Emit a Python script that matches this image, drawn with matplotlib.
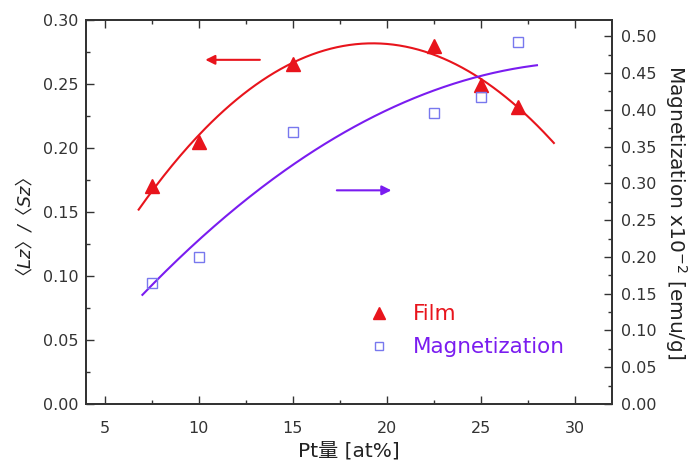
import numpy as np
import matplotlib
matplotlib.use("Agg")
import matplotlib.pyplot as plt
from matplotlib.ticker import MultipleLocator

plt.rcParams['font.family'] = ['DejaVu Sans', 'Noto Sans CJK JP']
plt.rcParams['mathtext.fontset'] = 'dejavusans'

# Pt content [at%]
pt_content = [7.5, 10, 15, 22.5, 25, 27]
# <Lz>/<Sz> ratio of the films (left axis)
film_ratio = [0.170, 0.205, 0.266, 0.280, 0.249, 0.232]
# Magnetization x10^-2 [emu/g] (right axis)
magnetization = [0.164, 0.200, 0.370, 0.396, 0.417, 0.492]

x_ticks = [5, 10, 15, 20, 25, 30]
left_ticks = [0.00, 0.05, 0.10, 0.15, 0.20, 0.25, 0.30]
right_ticks = [0.00, 0.05, 0.10, 0.15, 0.20, 0.25, 0.30, 0.35, 0.40, 0.45, 0.50]

red = '#e8141c'
violet = '#7a1cf0'
square_col = '#7878ee'
ink = '#333333'

fig = plt.figure(figsize=(6.94, 4.69), dpi=100)
ax = fig.add_axes([0.124, 0.1386, 0.758, 0.8184])
ax2 = ax.twinx()

# quadratic fits to each series
film_fit = np.polyfit(pt_content, film_ratio, 2)
mag_fit = np.polyfit(pt_content, magnetization, 2)
xf = np.linspace(6.8, 28.9, 200)
xm = np.linspace(7.0, 28.0, 200)
ax.plot(xf, np.polyval(film_fit, xf), color=red, lw=1.5, zorder=2)
ax2.plot(xm, np.polyval(mag_fit, xm), color=violet, lw=1.5, zorder=2)

ax.plot(pt_content, film_ratio, ls='none', marker='^', ms=10, color=red,
        mec=red, zorder=3)
ax2.plot(pt_content, magnetization, ls='none', marker='s', ms=7.5, mfc='none',
         mec=square_col, mew=1.0, zorder=3)

ax.set_xlim(4, 32)
ax.set_ylim(0, 0.30)
ax2.set_ylim(0, 0.522)

ax.set_xticks(x_ticks)
ax.set_yticks(left_ticks)
ax2.set_yticks(right_ticks)
ax.set_yticklabels([f"{v:.2f}" for v in left_ticks])
ax2.set_yticklabels([f"{v:.2f}" for v in right_ticks])
ax.xaxis.set_minor_locator(MultipleLocator(2.5))
ax.yaxis.set_minor_locator(MultipleLocator(0.025))
ax2.yaxis.set_minor_locator(MultipleLocator(0.025))

ax.tick_params(which='both', direction='in', top=True, labelsize=11.5,
               colors=ink, width=1.0)
ax.tick_params(which='major', length=6)
ax.tick_params(which='minor', length=3)
ax.tick_params(axis='x', which='major', pad=12)
ax.tick_params(axis='y', which='major', pad=5.5)
ax2.tick_params(which='both', direction='in', labelsize=11.5,
                colors=ink, width=1.0)
ax2.tick_params(which='major', length=6, pad=6.5)
ax2.tick_params(which='minor', length=3)
for a in (ax, ax2):
    for s in a.spines.values():
        s.set_linewidth(1.3)
        s.set_color(ink)

ax.set_xlabel('Pt量 [at%]', fontsize=14.5, color='#222222', labelpad=4)
ax.set_ylabel('〈Lz〉/〈Sz〉', fontsize=13, style='italic', color='#222222')
ax.yaxis.set_label_coords(-0.119, 0.49)
ax2.set_ylabel(r'Magnetization x10$^{-2}$ [emu/g]', fontsize=14.5,
               color='#222222', rotation=270, labelpad=23)

# direction arrows pointing at each series' axis
ax.annotate('', xy=(10.2, 0.269), xytext=(13.4, 0.269),
            arrowprops=dict(arrowstyle='-|>', color=red, lw=1.5,
                            mutation_scale=14))
ax.annotate('', xy=(20.4, 0.167), xytext=(17.2, 0.167),
            arrowprops=dict(arrowstyle='-|>', color=violet, lw=1.5,
                            mutation_scale=14))

h1 = plt.Line2D([], [], ls='none', marker='^', ms=8, color=red)
h2 = plt.Line2D([], [], ls='none', marker='s', ms=6, mfc='none',
                mec=square_col, mew=1.0)
leg = ax.legend([h1, h2], ['Film', 'Magnetization'], loc='upper left',
                bbox_to_anchor=(0.496, 0.31), frameon=False, fontsize=15.5,
                labelspacing=0.6, handletextpad=0.95, handlelength=1.2,
                labelcolor=[red, violet])

fig.savefig('out.png', dpi=100)
